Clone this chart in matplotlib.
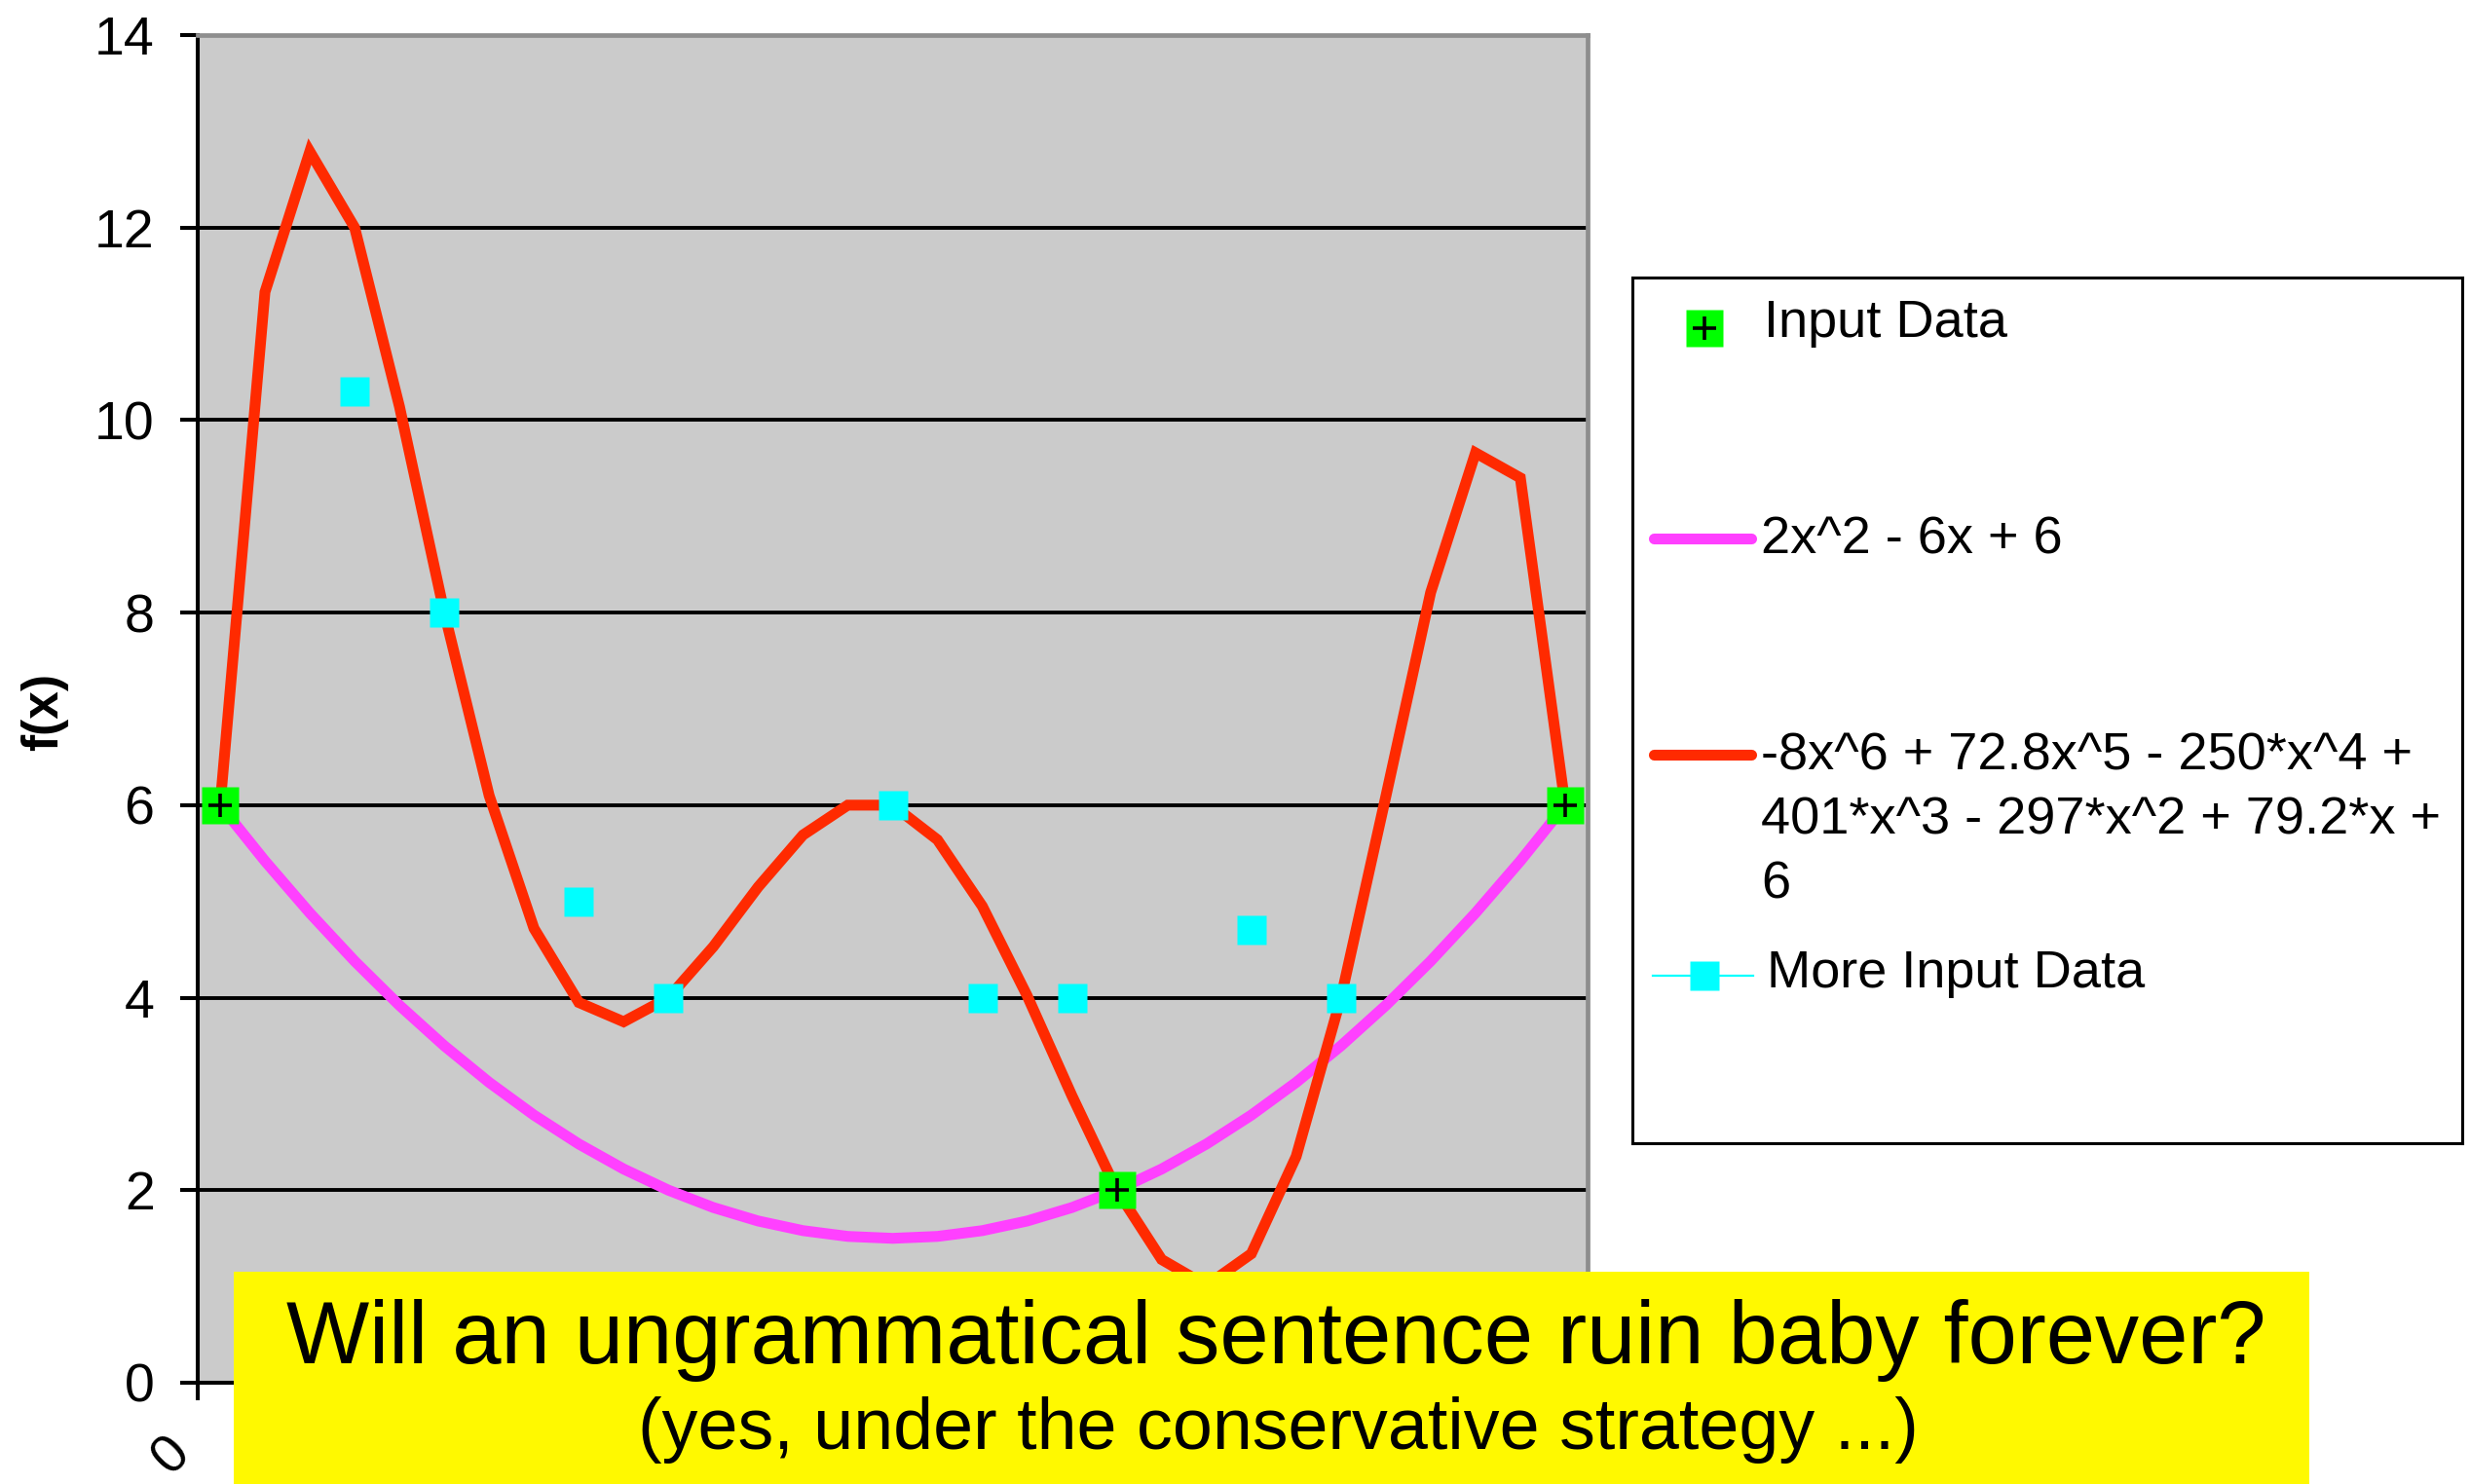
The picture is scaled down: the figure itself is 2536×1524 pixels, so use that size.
"""Recreate the 'ungrammatical sentence' polynomial fit chart."""

import matplotlib

matplotlib.use("Agg")
import matplotlib.pyplot as plt
import matplotlib.transforms as mtransforms
from matplotlib.patches import Rectangle

# category axis: x from 0 to 3 in steps of 0.1
x_values = [0.0, 0.1, 0.2, 0.3, 0.4, 0.5, 0.6, 0.7, 0.8, 0.9, 1.0,
            1.1, 1.2, 1.3, 1.4, 1.5, 1.6, 1.7, 1.8, 1.9, 2.0,
            2.1, 2.2, 2.3, 2.4, 2.5, 2.6, 2.7, 2.8, 2.9, 3.0]

quadratic = [6.0, 5.42, 4.88, 4.38, 3.92, 3.5, 3.12, 2.78, 2.48, 2.22, 2.0,
             1.82, 1.68, 1.58, 1.52, 1.5, 1.52, 1.58, 1.68, 1.82, 2.0,
             2.22, 2.48, 2.78, 3.12, 3.5, 3.92, 4.38, 4.88, 5.42, 6.0]

sextic = [6.0, 11.33, 12.79, 12.0, 10.14, 8.0, 6.10, 4.72, 3.95, 3.75, 4.0,
          4.53, 5.15, 5.69, 6.0, 6.0, 5.64, 4.95, 4.02, 2.98, 2.0,
          1.28, 1.01, 1.34, 2.35, 4.0, 6.09, 8.21, 9.66, 9.40, 6.0]

input_x = [0.0, 2.0, 3.0]
input_y = [6.0, 2.0, 6.0]

more_x = [0.3, 0.5, 0.8, 1.0, 1.5, 1.7, 1.9, 2.3, 2.5]
more_y = [10.3, 8.0, 5.0, 4.0, 6.0, 4.0, 4.0, 4.7, 4.0]

y_ticks = [0, 2, 4, 6, 8, 10, 12, 14]

series_labels = [
    "Input Data",
    "2x^2 - 6x + 6",
    "-8x^6 + 72.8x^5 - 250*x^4 +\n401*x^3 - 297*x^2 + 79.2*x +\n6",
    "More Input Data",
]
banner_title = "Will an ungrammatical sentence ruin baby forever?"
banner_sub = "(yes, under the conservative strategy ...)"

W, H = 2536, 1524
FONT = ["Liberation Sans", "DejaVu Sans"]
PINK = "#FF40FF"
RED = "#FF2A00"
GREEN = "#00FF00"
CYAN = "#00FFFF"
PLOT_BG = "#CBCBCB"
YELLOW = "#FFF900"
LINE_W = 8


def _fx(px):
    return px / W


def _fy(py):
    return 1 - py / H


def draw_chart(fig):
    left, right, top, bottom = 203, 1630, 36, 1420
    ax = fig.add_axes([_fx(left), _fy(bottom), _fx(right - left), (bottom - top) / H])
    ax.set_facecolor(PLOT_BG)

    ax.plot(x_values, quadratic, color=PINK, lw=LINE_W, zorder=2, solid_joinstyle="miter")
    ax.plot(x_values, sextic, color=RED, lw=LINE_W, zorder=2.1, solid_joinstyle="miter")
    ax.plot(input_x, input_y, ls="none", marker="s", ms=27, mfc=GREEN, mec="none", zorder=3)
    ax.plot(input_x, input_y, ls="none", marker="+", ms=17, mec="black", mew=2.6, zorder=3.1)
    ax.plot(more_x, more_y, ls="none", marker="s", ms=21.5, mfc=CYAN, mec="none", zorder=3)

    ax.set_xlim(x_values[0] - 0.05, x_values[-1] + 0.05)
    ax.set_ylim(y_ticks[0], y_ticks[-1])
    ax.set_yticks(y_ticks, [str(t) for t in y_ticks])
    ax.yaxis.grid(True, color="black", lw=2.8)
    ax.set_axisbelow(True)

    # category boundaries carry the tick marks, the label sits under the category
    bounds = [x - 0.05 for x in x_values] + [x_values[-1] + 0.05]
    ax.set_xticks(bounds, minor=True)
    ax.set_xticks([x_values[0]], ["0"])
    ax.tick_params(axis="x", which="minor", length=13, width=2.9, direction="out")
    ax.tick_params(axis="x", which="major", length=0, pad=54)
    ax.tick_params(axis="y", length=13, width=2.9, direction="out", pad=19)
    for lbl in ax.get_yticklabels():
        lbl.set_fontsize(40)
        lbl.set_family(FONT)
    offset = mtransforms.ScaledTranslation(-0.5, 0, fig.dpi_scale_trans)
    for lbl in ax.get_xticklabels():
        lbl.set_fontsize(40)
        lbl.set_family(FONT)
        lbl.set_rotation(45)
        lbl.set_rotation_mode("anchor")
        lbl.set_ha("center")
        lbl.set_va("center")
        lbl.set_transform(lbl.get_transform() + offset)

    for side in ("left", "bottom"):
        ax.spines[side].set_color("black")
        ax.spines[side].set_linewidth(2.9)
    for side in ("top", "right"):
        ax.spines[side].set_color("#8E8E8E")
        ax.spines[side].set_linewidth(3.4)

    fig.text(_fx(46), _fy(731), "f(x)", rotation=90, ha="center", va="center",
             fontsize=37, fontweight="bold", family=FONT)


def draw_legend(fig):
    l, r, t, b = 1676, 2528, 285, 1174
    lg = fig.add_axes([_fx(l), _fy(b), _fx(r - l), (b - t) / H])
    lg.set_xlim(l, r)
    lg.set_ylim(b, t)
    lg.set_xticks([])
    lg.set_yticks([])
    for sp in lg.spines.values():
        sp.set_color("black")
        sp.set_linewidth(2.2)

    kw = dict(fontsize=39, family=FONT, va="baseline", ha="left")
    # Input Data
    lg.plot([1750], [337], ls="none", marker="s", ms=27, mfc=GREEN, mec="none")
    lg.plot([1750], [337], ls="none", marker="+", ms=17, mec="black", mew=2.6)
    lg.text(1811, 346, series_labels[0], **kw)
    # quadratic
    lg.plot([1698, 1798], [553, 553], color=PINK, lw=LINE_W, solid_capstyle="round")
    lg.text(1808, 569, series_labels[1], **kw)
    # sextic
    lg.plot([1698, 1798], [775, 775], color=RED, lw=LINE_W, solid_capstyle="round")
    for i, line in enumerate(series_labels[2].split("\n")):
        lg.text(1808, 791 + i * 66, line, **kw)
    # More Input Data
    lg.plot([1697, 1800], [1002, 1002], color=CYAN, lw=1.6)
    lg.plot([1750], [1002], ls="none", marker="s", ms=21.5, mfc=CYAN, mec="none")
    lg.text(1814, 1014, series_labels[3], **kw)


def draw_banner(fig):
    x0, x1, y0 = 240, 2371, 1306
    fig.add_artist(Rectangle((_fx(x0), 0), _fx(x1 - x0), (H - y0) / H,
                             transform=fig.transFigure, facecolor=YELLOW,
                             edgecolor="none", zorder=10))
    fig.text(_fx(1310), _fy(1400), banner_title, ha="center", va="baseline",
             fontsize=65, family=FONT, zorder=11)
    fig.text(_fx(1312), _fy(1488), banner_sub, ha="center", va="baseline",
             fontsize=53, family=FONT, zorder=11)


def main():
    fig = plt.figure(figsize=(W / 100, H / 100), dpi=100)
    fig.patch.set_facecolor("white")
    draw_chart(fig)
    draw_legend(fig)
    draw_banner(fig)
    fig.savefig("out.png", dpi=100)
    plt.close(fig)


if __name__ == "__main__":
    main()
